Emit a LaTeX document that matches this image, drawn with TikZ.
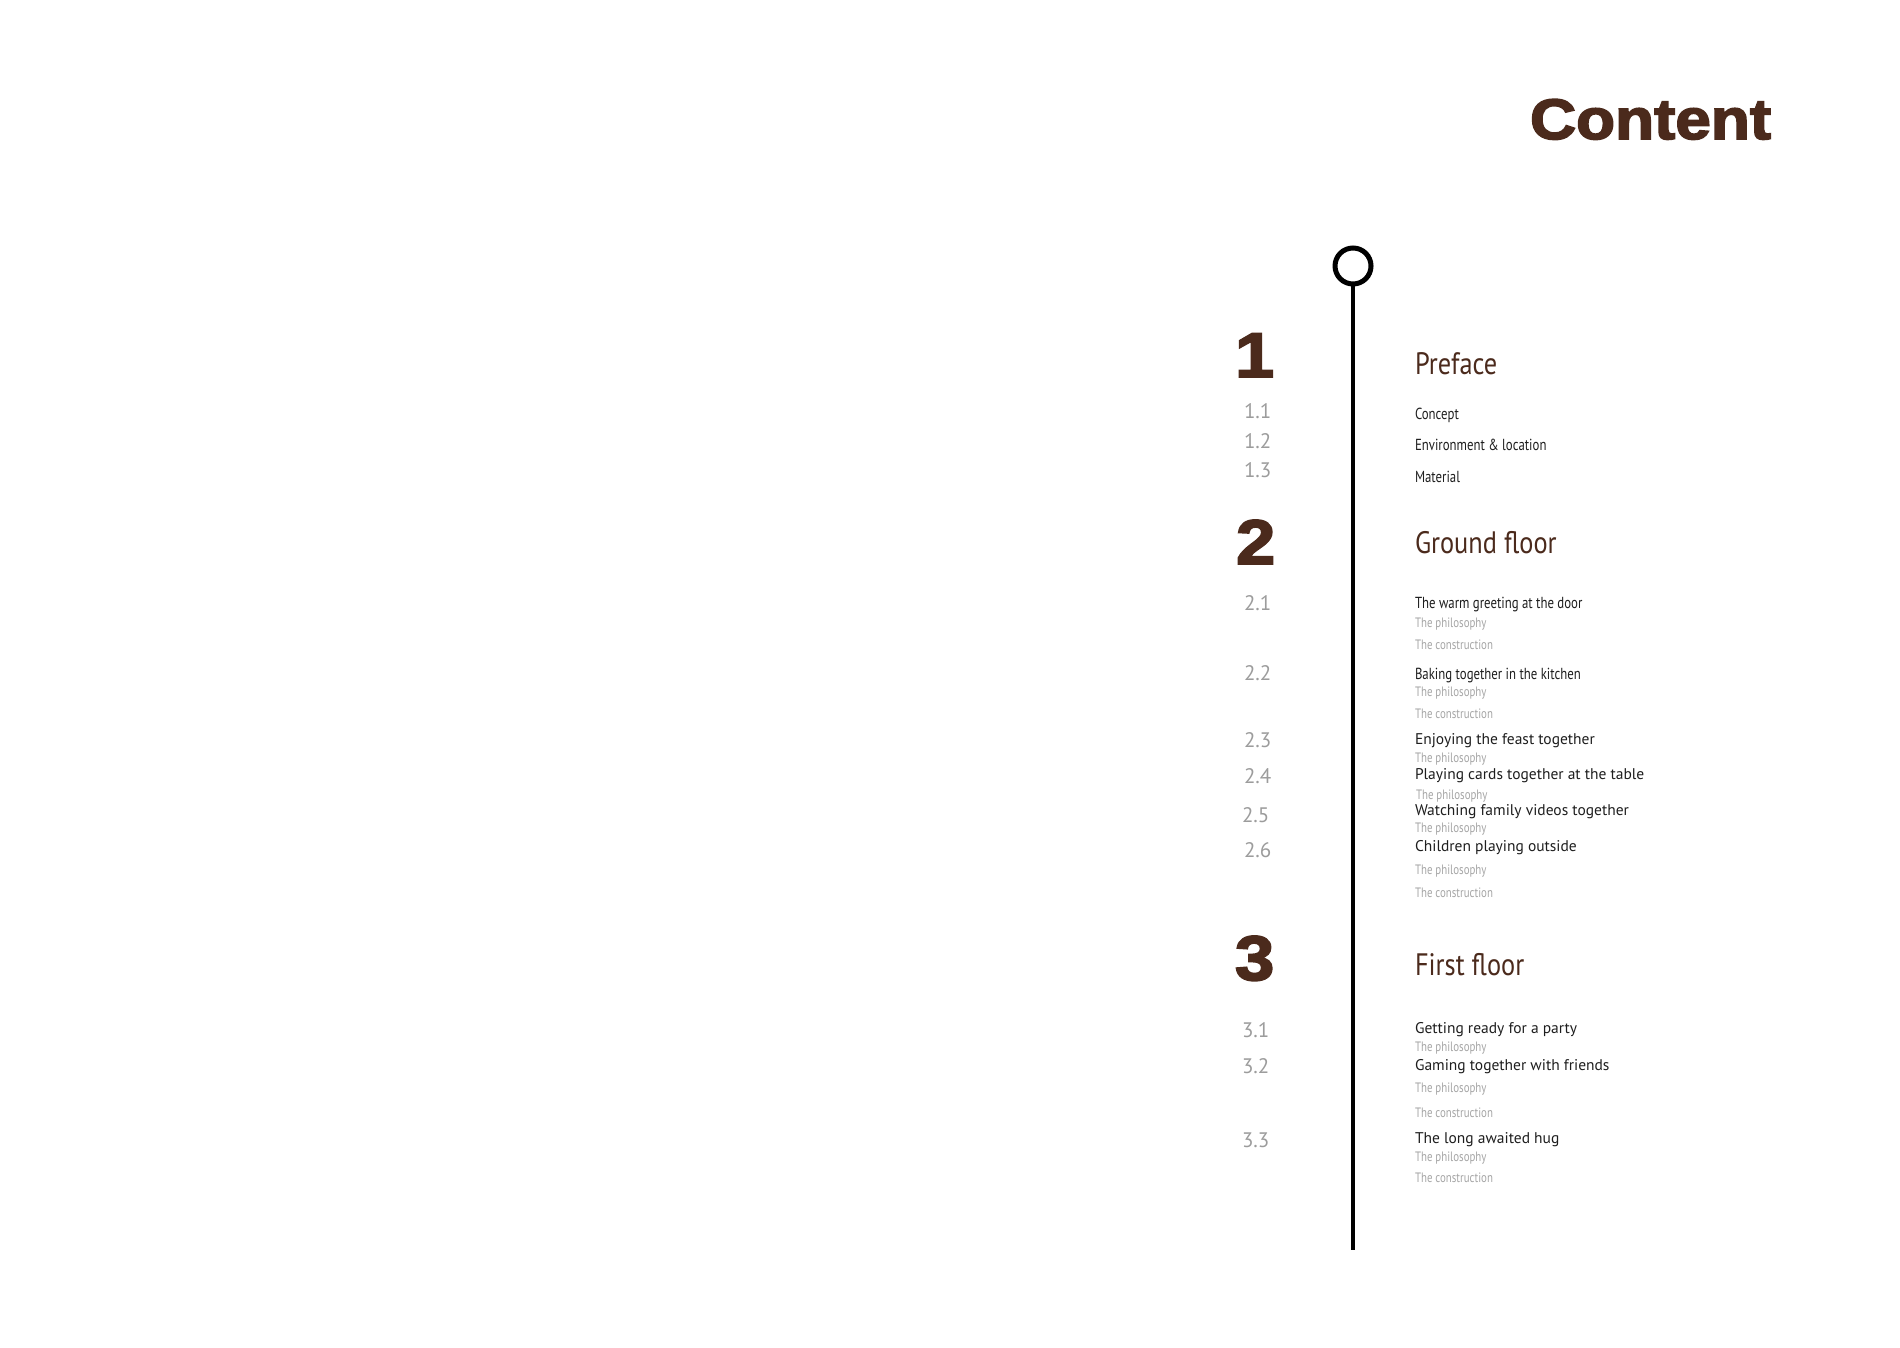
\documentclass[tikz,border=0pt]{standalone}
\usepackage{fontspec}
\setmainfont{PT Sans}
\newfontfamily\heavyfont[FakeBold=3, FakeStretch=1.12]{Liberation Sans Bold}
\newfontfamily\condfont[FakeStretch=0.8]{PT Sans}
\newfontfamily\secfont[FakeStretch=0.85]{PT Sans}
\newfontfamily\regfont{PT Sans}
\definecolor{brownc}{HTML}{4B2A1C}
\definecolor{numgray}{HTML}{9C9C9C}
\definecolor{subgray}{HTML}{A6A6A6}
\definecolor{itemblack}{HTML}{1E1E1E}
\tikzset{
  every node/.style={inner sep=0pt, outer sep=0pt, anchor=base west},
  titletext/.style={font=\heavyfont\fontsize{57}{57}\selectfont, text=brownc},
  bignum/.style={font=\heavyfont\fontsize{63}{63}\selectfont, text=brownc},
  secttext/.style={font=\secfont\fontsize{31}{31}\selectfont, text=brownc},
  condtext/.style={font=\condfont\fontsize{16}{16}\selectfont, text=itemblack},
  regtext/.style={font=\regfont\fontsize{15.5}{15.5}\selectfont, text=itemblack},
  subtext/.style={font=\condfont\fontsize{13.6}{13.6}\selectfont, text=subgray},
  numtext/.style={font=\regfont\fontsize{21}{21}\selectfont, text=numgray},
  ringnode/.style={circle, draw=black, line width=5pt, minimum size=36pt, anchor=center},
  timeline/.style={draw=black, line width=4.5pt},
}
\begin{document}
\begin{tikzpicture}[x=1pt, y=-1pt]
\useasboundingbox (0,0) rectangle (1900,1348);
\fill[white] (0,0) rectangle (1900,1348);

% title
\node[titletext] (title) at (1530,139) {Content};

% timeline
\node[ringnode] (ring) at (1353,266) {};
\coordinate (lineend) at (1353,1250);
\draw[timeline] (ring.south) -- (lineend);

% section 1
\node[bignum] (n1) at (1235,377) {1};
\node[secttext] (s1) at (1415,374) {Preface};
\node[numtext] (n11) at (1244,418) {1.1};
\node[numtext] (n12) at (1244,448) {1.2};
\node[numtext] (n13) at (1244,477) {1.3};
\node[condtext] (i11) at (1415,419) {Concept};
\node[condtext] (i12) at (1415,450) {Environment \& location};
\node[condtext] (i13) at (1415,482) {Material};

% section 2
\node[bignum] (n2) at (1236,564) {2};
\node[secttext] (s2) at (1415,553) {Ground floor};
\node[numtext] (n21) at (1244,610) {2.1};
\node[numtext] (n22) at (1244,680) {2.2};
\node[numtext] (n23) at (1244,747) {2.3};
\node[numtext] (n24) at (1244,783) {2.4};
\node[numtext] (n25) at (1242,822) {2.5};
\node[numtext] (n26) at (1244,857) {2.6};

\node[condtext] (i21) at (1415,608) {The warm greeting at the door};
\node[subtext] (p21) at (1415,627) {The philosophy};
\node[subtext] (c21) at (1415,649) {The construction};
\node[condtext] (i22) at (1415,679) {Baking together in the kitchen};
\node[subtext] (p22) at (1415,696) {The philosophy};
\node[subtext] (c22) at (1415,718) {The construction};
\node[regtext] (i23) at (1415,744) {Enjoying the feast together};
\node[subtext] (p23) at (1415,762) {The philosophy};
\node[regtext] (i24) at (1415,779) {Playing cards together at the table};
\node[subtext] (p24) at (1416,799) {The philosophy};
\node[regtext] (i25) at (1415,815) {Watching family videos together};
\node[subtext] (p25) at (1415,832) {The philosophy};
\node[regtext] (i26) at (1415,851) {Children playing outside};
\node[subtext] (p26) at (1415,874) {The philosophy};
\node[subtext] (c26) at (1415,897) {The construction};

% section 3
\node[bignum] (n3) at (1235,980) {3};
\node[secttext] (s3) at (1415,975) {First floor};
\node[numtext] (n31) at (1242,1037) {3.1};
\node[numtext] (n32) at (1242,1073) {3.2};
\node[numtext] (n33) at (1242,1147) {3.3};

\node[regtext] (i31) at (1415,1033) {Getting ready for a party};
\node[subtext] (p31) at (1415,1051) {The philosophy};
\node[regtext] (i32) at (1415,1070) {Gaming together with friends};
\node[subtext] (p32) at (1415,1092) {The philosophy};
\node[subtext] (c32) at (1415,1117) {The construction};
\node[regtext] (i33) at (1415,1143) {The long awaited hug};
\node[subtext] (p33) at (1415,1161) {The philosophy};
\node[subtext] (c33) at (1415,1182) {The construction};
\end{tikzpicture}
\end{document}
